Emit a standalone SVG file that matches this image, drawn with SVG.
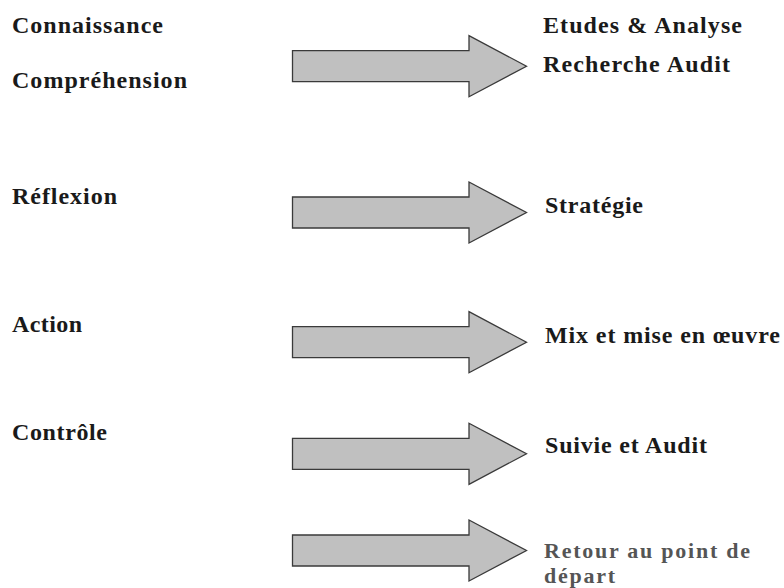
<svg xmlns="http://www.w3.org/2000/svg" xmlns:xlink="http://www.w3.org/1999/xlink" width="784" height="588" viewBox="0 0 784 588">
  <style>
    .t { font-family: "Liberation Serif", "Times New Roman", serif; font-weight: bold; font-size: 24px; fill: #1a1a1a; }
    .g { fill: #555555; font-size: 22px; }
    .arr { fill: #c0c0c0; stroke: #3a3a3a; stroke-width: 1.3; stroke-linejoin: miter; }
  </style>
  <defs>
    <path id="arrow" class="arr" d="M0,-15.5 H176.5 V-30.5 L234,0 L176.5,30.5 V15.5 H0 Z"/>
  </defs>
  <rect width="784" height="588" fill="#ffffff"/>

  <g id="connectors">
    <use xlink:href="#arrow" href="#arrow" x="292.5" y="66.2"/>
    <use xlink:href="#arrow" href="#arrow" x="292.5" y="212.5"/>
    <use xlink:href="#arrow" href="#arrow" x="292.5" y="342.2"/>
    <use xlink:href="#arrow" href="#arrow" x="292.5" y="453.8"/>
    <use xlink:href="#arrow" href="#arrow" x="292.5" y="550.5"/>
  </g>

  <g id="left-connaissance">
    <text class="t" x="12" y="33" textLength="151" lengthAdjust="spacing">Connaissance</text>
    <text class="t" x="12" y="88" textLength="175" lengthAdjust="spacing">Compréhension</text>
  </g>
  <g id="left-reflexion">
    <text class="t" x="12" y="204" textLength="105" lengthAdjust="spacing">Réflexion</text>
  </g>
  <g id="left-action">
    <text class="t" x="12" y="332" textLength="70" lengthAdjust="spacing">Action</text>
  </g>
  <g id="left-controle">
    <text class="t" x="12" y="440" textLength="95" lengthAdjust="spacing">Contrôle</text>
  </g>

  <g id="right-etudes">
    <text class="t" x="543" y="33" textLength="199" lengthAdjust="spacing">Etudes &amp; Analyse</text>
    <text class="t" x="543" y="72" textLength="187" lengthAdjust="spacing">Recherche Audit</text>
  </g>
  <g id="right-strategie">
    <text class="t" x="545" y="213" textLength="98" lengthAdjust="spacing">Stratégie</text>
  </g>
  <g id="right-mix">
    <text class="t" x="545" y="343" textLength="235" lengthAdjust="spacing">Mix et mise en œuvre</text>
  </g>
  <g id="right-suivie">
    <text class="t" x="545" y="453" textLength="162" lengthAdjust="spacing">Suivie et Audit</text>
  </g>
  <g id="right-retour">
    <text class="t g" x="544" y="558" textLength="206" lengthAdjust="spacing">Retour au point de</text>
    <text class="t g" x="544" y="583" textLength="71" lengthAdjust="spacing">départ</text>
  </g>
</svg>
